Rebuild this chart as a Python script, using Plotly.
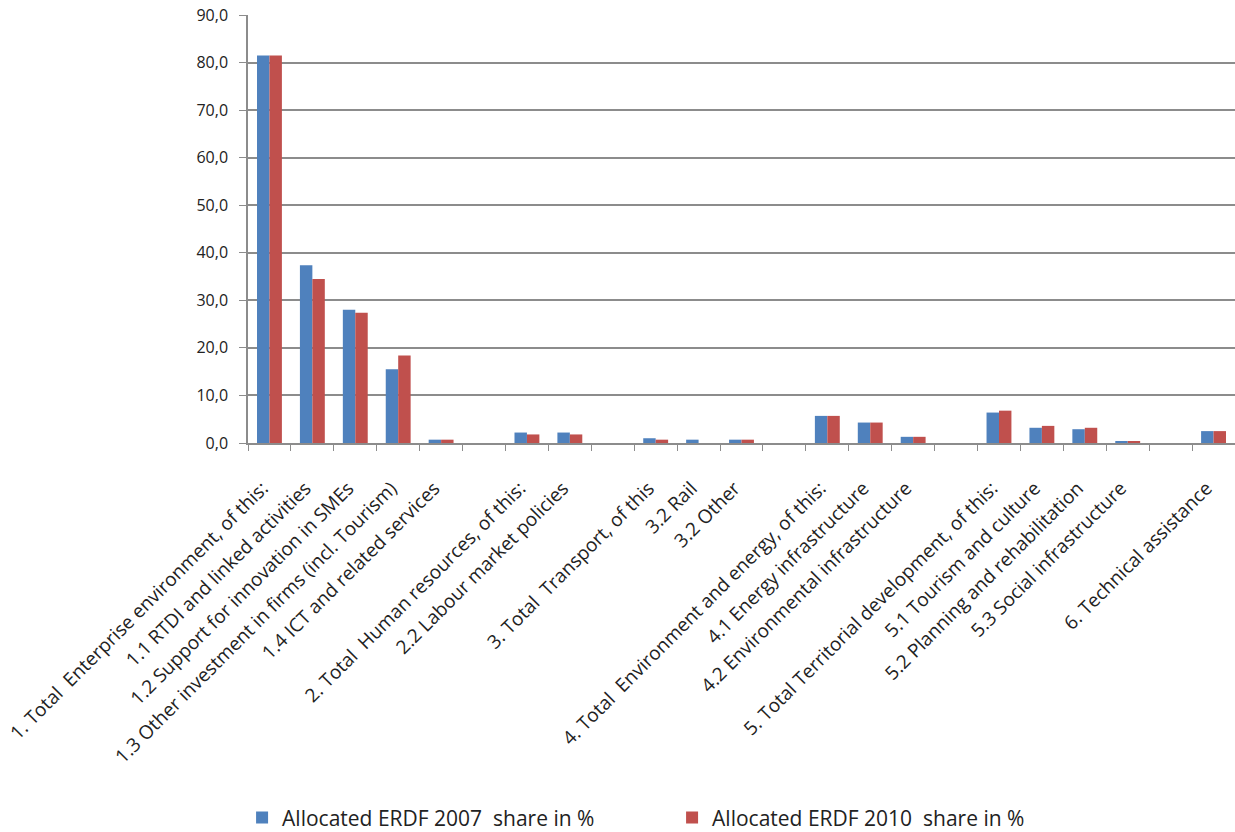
import plotly.graph_objects as go

# Category labels; blank entries are spacer slots between the thematic groups
categories = [
    "1. Total  Enterprise environment, of this:",
    "1.1 RTDI and linked activities",
    "1.2 Support for innovation in SMEs",
    "1.3 Other investment in firms (incl. Tourism)",
    "1.4 ICT and related services",
    " ",
    "2. Total  Human resources, of this:",
    "2.2 Labour market policies",
    "  ",
    "3. Total  Transport, of this",
    "3.2 Rail",
    "3.2 Other",
    "   ",
    "4. Total  Environment and energy, of this:",
    "4.1 Energy infrastructure",
    "4.2 Environmental infrastructure",
    "    ",
    "5. Total Territorial development, of this:",
    "5.1 Tourism and culture",
    "5.2 Planning and rehabilitation",
    "5.3 Social infrastructure",
    "     ",
    "6. Technical assistance",
]

share_2007 = [81.5, 37.4, 28.0, 15.5, 0.7, None, 2.2, 2.2, None, 1.0, 0.7, 0.7, None,
              5.7, 4.3, 1.3, None, 6.4, 3.2, 2.9, 0.3, None, 2.5]
share_2010 = [81.5, 34.5, 27.4, 18.4, 0.7, None, 1.8, 1.8, None, 0.7, 0.0, 0.7, None,
              5.7, 4.3, 1.3, None, 6.8, 3.6, 3.2, 0.3, None, 2.5]

series_names = ["Allocated ERDF 2007  share in %", "Allocated ERDF 2010  share in %"]
y_ticks = [0, 10, 20, 30, 40, 50, 60, 70, 80, 90]

BLUE = "#4F81BD"
RED = "#C0504D"
GRID = "#8C8C8C"
FONT = "Open Sans"
TEXT = "#222222"


def nbsp(s):
    # keep double spaces visible in SVG text
    return s.replace("  ", "\u00a0\u00a0")


cat_display = [nbsp(c) if c.strip() else c for c in categories]

fig = go.Figure()
fig.add_trace(go.Bar(x=cat_display, y=share_2007, name=nbsp(series_names[0]),
                     marker=dict(color=BLUE, line=dict(width=0))))
fig.add_trace(go.Bar(x=cat_display, y=share_2010, name=nbsp(series_names[1]),
                     marker=dict(color=RED, line=dict(width=0))))

fig.update_layout(
    width=1235, height=832,
    margin=dict(l=248, r=0, t=15, b=389, autoexpand=False),
    paper_bgcolor="white", plot_bgcolor="white",
    barmode="group", bargap=0.42, bargroupgap=0,
    separators=",.",
    font=dict(family=FONT, size=14, color=TEXT),
    showlegend=True,
    legend=dict(orientation="h", x=-0.006, xanchor="left", y=-0.876, yanchor="middle",
                font=dict(family=FONT, size=21, color=TEXT),
                itemwidth=30, traceorder="normal", tracegroupgap=0,
                entrywidth=385, entrywidthmode="pixels"),
    xaxis=dict(
        type="category", categoryorder="array", categoryarray=cat_display,
        tickangle=-45, tickfont=dict(family=FONT, size=19, color=TEXT),
        ticksuffix="\u00a0\u00a0",
        showline=True, linecolor=GRID, linewidth=1.5, automargin=False,
        ticks="outside", ticklen=6, tickcolor=GRID, tickson="boundaries",
        ticklabelstandoff=18,
        showgrid=False, zeroline=False,
    ),
    yaxis=dict(
        range=[0, 90], tickvals=y_ticks, tickformat=".1f",
        tickfont=dict(family=FONT, size=16, color=TEXT),
        showline=True, linecolor=GRID, linewidth=1.5, automargin=False,
        ticks="outside", ticklen=7, tickcolor=GRID, ticklabelstandoff=8,
        showgrid=True, gridcolor=GRID, gridwidth=1.5,
        zeroline=False,
    ),
)

fig.write_html("out.html")
